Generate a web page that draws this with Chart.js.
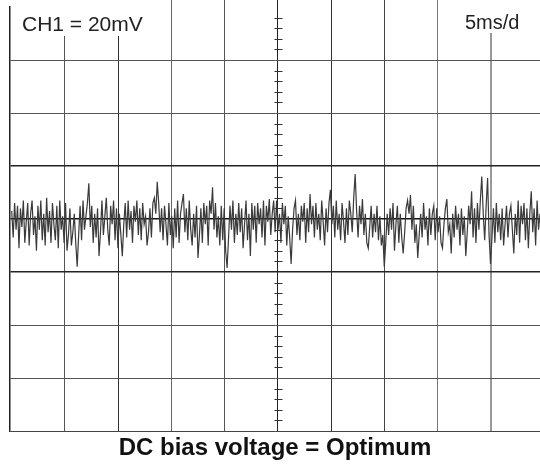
<!DOCTYPE html>
<html><head><meta charset="utf-8">
<script src="https://cdn.jsdelivr.net/npm/chart.js@4.4.1/dist/chart.umd.min.js"></script>
<style>html,body{margin:0;padding:0;background:#fff}#wrap{position:relative;width:540px;height:468px}</style>
</head><body><div id="wrap"><canvas id="c"></canvas></div>
<script>
// ---- data ----
const channelLabel = 'CH1 = 20mV';
const timebaseLabel = '5ms/d';
const captionText = 'DC bias voltage = Optimum';
const timeGridTicks = [-0.16, 0, 5, 10, 15, 20, 25, 30, 35, 40, 45, 49.6]; // ms
const voltGridTicks = [-80, -60, -40, -20, 0, 20, 40, 60, 80];               // mV
const traceStartMs = 0;
const traceEndMs = 49.6;
const noiseMv = [
 3, -7, 6, -4, 5, -11, 4, -3, 7, -9, -1, 6, -10,
 2, 7, -6, 1, -12, 5, -4, 7, -8, 2, -10, 8, -5,
 3, -9, 6, -2, -8, 5, -11, 7, -4, 1, -9, 6, -12,
 -6, 4, -10, -5, 2, -9, -18, -6, 5, -8, 7, -4, 1,
 6, 13.5, -3, 5, -9, 2, -7, 4, -14, -5, 7, -6, 1,
 8, -4, -10, 5, -2, 7, -8, 4, -11, 2, -6, -14, -2,
 6, -7, 7, -4, 3, -9, 5, -1, 7, -6, 4, -8, 6,
 -2, 1, -10, -5, 4, -7, 6, 8, 2, 14, 6, -5, 4,
 -8, 5, -2, -10, 6, -6, 1, -11, 4, -7, 7, -9, 2,
 6, 9.4, -5, 4, -8, 7, -4, -10, 2, -7, 5, -14.7, -6,
 4, -9, 6, -2, 5, -10, 7, 2, 12, -4, 6, -7, 1,
 -10, 5, -8, 4, -12, -18.5, -7, 5, -4, 7, -9, 2, -6,
 6, -5, 4, -11, -2, 7, -8, 2, -14, 6, -4, 5, -9,
 6, -2, 4, -7, 7, -10, 5, -1, 7.5, -6, 2, 7, -5,
 7, -4, 2, -9, 6, -2, 5, -10, 1, -7, -17, -4, 4,
 7, -6, 2, -8, 5, -1, 6, -9, 4, -5, 9.4, -2, 5,
 -7, 6, -4, 2, -8, 7, -1, -10, 4, -5, 6, 11, -2,
 5, -7, 7, -4, 2, -8, 6, -1, -9, 4, -6, 7, 2,
 -5, 8, 17, 3, -7, 5, -2, 7.5, -6, 2, -9, -11, -3,
 5, -7, 2, -5, 5, -8, 1, -10, -6, -18, -9, 2, -6,
 4, -4, 6, -12, -2, 5, -9, 2, -7, -13, -5, 4, 7,
 2, 9, -4, 5, -9, -2, -14.7, -6, 2, -7, 6, -4, 1,
 -10, 4, -6, 2, 5, -8, 4, -5, 1, -9, -11, -2, 4,
 7.5, -5, -2, -13, 2, -7, 5, -4, 2, -10, 4, -6, 1,
 -14, -5, 5, -2, 10.5, -7, 4, -9, 6, -4, 7, 16, 2,
 -8, 5, 15.5, -6, -17, -7, 4, -9, 6, -5, 2, -8, 4,
 -10, -2, 5, -7, 2, 5, -4, -13, 2, -6, 7, -9, 5,
 -2, 6, -8, 4, -11, 2, 10.5, -5, 4, -10, 7, -4, 2
];

// ---- styles ----
const xGridStyle = {
  '-0.16': ['rgba(0,0,0,0)', 1], '0': ['rgba(0,0,0,0)', 1],
  '5': ['#555', 1], '10': ['#333', 1], '15': ['#666', 1], '20': ['#555', 1],
  '25': ['#222', 1], '30': ['#333', 1], '35': ['#444', 1], '40': ['#777', 1],
  '45': ['#999', 2], '49.6': ['rgba(0,0,0,0)', 1]
};
const yGridStyle = {
  '80': ['rgba(0,0,0,0)', 1], '60': ['#555', 1], '40': ['#555', 1],
  '20': ['#222', 1.5], '0': ['#111', 1.5], '-20': ['#222', 1.5],
  '-40': ['#555', 1], '-60': ['#555', 1], '-80': ['#444', 1]
};

const points = noiseMv.map((v, i) => ({
  x: traceStartMs + i * (traceEndMs - traceStartMs) / (noiseMv.length - 1),
  y: v
}));

const centerMinor = {
  id: 'centerMinor',
  afterDatasetsDraw(chart) {
    const { ctx, scales: { x, y } } = chart;
    const cx = Math.round(x.getPixelForValue(25)) + 0.5;
    ctx.save();
    ctx.strokeStyle = '#333';
    ctx.lineWidth = 1;
    for (let v = -80; v <= 80; v += 4) {
      if (v % 20 === 0) continue;
      const py = Math.round(y.getPixelForValue(v)) + 0.5;
      ctx.beginPath(); ctx.moveTo(cx - 4, py); ctx.lineTo(cx + 4, py); ctx.stroke();
    }
    ctx.restore();
  }
};

const labels = {
  id: 'scopeLabels',
  afterDraw(chart) {
    const ctx = chart.ctx;
    ctx.save();
    ctx.fillStyle = '#fff';
    ctx.fillRect(15, 0, 135, 36);
    ctx.fillRect(455, 0, 85, 33);
    ctx.fillStyle = '#222';
    ctx.textBaseline = 'alphabetic';
    ctx.font = '21px "Liberation Sans", Arial, sans-serif';
    ctx.fillText(channelLabel, 22, 31);
    ctx.font = '20px "Liberation Sans", Arial, sans-serif';
    ctx.fillText(timebaseLabel, 465, 29);
    ctx.restore();
  }
};

new Chart(document.getElementById('c'), {
  type: 'line',
  data: {
    datasets: [{
      data: points,
      borderColor: '#3a3a3a',
      borderWidth: 1.2,
      pointRadius: 0,
      tension: 0,
      fill: false
    }]
  },
  options: {
    responsive: true,
    maintainAspectRatio: false,
    animation: false,
    events: [],
    layout: { padding: { left: 10, right: 0, top: 0, bottom: 0 } },
    plugins: {
      legend: { display: false },
      tooltip: { enabled: false },
      title: {
        display: true,
        position: 'bottom',
        text: captionText,
        color: '#111',
        font: { family: '"Liberation Sans", Arial, sans-serif', size: 24, weight: 'bold' },
        padding: { top: 3, bottom: 5.2 }
      }
    },
    scales: {
      x: {
        type: 'linear',
        position: 'top',
        min: -0.16,
        max: 49.6,
        afterBuildTicks: (s) => { s.ticks = timeGridTicks.map(v => ({ value: v })); },
        ticks: { display: false },
        border: { display: false },
        grid: {
          drawTicks: true,
          tickLength: 7,
          color: (c) => (xGridStyle[String(c.tick.value)] || ['#555', 1])[0],
          lineWidth: (c) => (xGridStyle[String(c.tick.value)] || ['#555', 1])[1]
        }
      },
      y: {
        type: 'linear',
        min: -80,
        max: 80,
        afterBuildTicks: (s) => { s.ticks = voltGridTicks.map(v => ({ value: v })); },
        ticks: { display: false },
        border: { display: true, color: '#222', width: 1.5 },
        grid: {
          drawTicks: false,
          color: (c) => (yGridStyle[String(c.tick.value)] || ['#555', 1])[0],
          lineWidth: (c) => (yGridStyle[String(c.tick.value)] || ['#555', 1])[1]
        }
      }
    }
  },
  plugins: [centerMinor, labels]
});
</script>
</body></html>
